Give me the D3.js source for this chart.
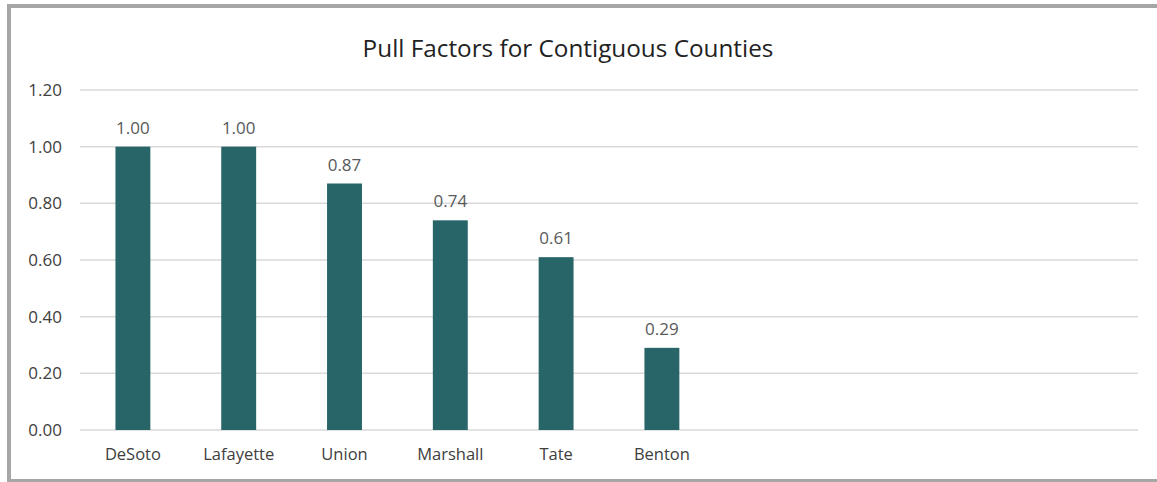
<!DOCTYPE html>
<html>
<head>
<meta charset="utf-8">
<script src="https://cdn.jsdelivr.net/npm/d3@7"></script>
<style>
  html, body { margin: 0; padding: 0; background: #fff; }
  svg { display: block; font-family: "Open Sans", sans-serif; }
</style>
</head>
<body>
<div id="chart"></div>
<script>
// chart data
var categories = ['DeSoto', 'Lafayette', 'Union', 'Marshall', 'Tate', 'Benton'];
var pullFactors = [1.00, 1.00, 0.87, 0.74, 0.61, 0.29];
var yTicks = [0, 0.2, 0.4, 0.6, 0.8, 1.0, 1.2];
// the category axis keeps room for ten slots, only six are used
var slotCount = 10;

var width = 1157, height = 482;
var margin = { top: 90, right: 19, bottom: 52, left: 80 };
var fontFamily = '"Open Sans", sans-serif';

var svg = d3.select('#chart')
    .append('svg')
    .attr('width', width)
    .attr('height', height);

// outer frame (gray on top, left and bottom)
svg.append('rect').attr('x', 7).attr('y', 4).attr('width', width - 7).attr('height', 4).style('fill', '#a6a6a6');
svg.append('rect').attr('x', 7).attr('y', 4).attr('width', 4).attr('height', height - 4).style('fill', '#a6a6a6');
svg.append('rect').attr('x', 7).attr('y', height - 3).attr('width', width - 7).attr('height', 3).style('fill', '#a6a6a6');

var x = d3.scaleBand()
    .domain(d3.range(slotCount))
    .range([margin.left, width - margin.right])
    .paddingInner(0.67)
    .paddingOuter(0.335);

var y = d3.scaleLinear()
    .domain([0, 1.2])
    .range([height - margin.bottom, margin.top]);

// gridlines
svg.append('g')
    .selectAll('line')
    .data(yTicks)
    .enter()
    .append('line')
    .attr('x1', margin.left)
    .attr('x2', width - margin.right)
    .attr('y1', function (d) { return y(d); })
    .attr('y2', function (d) { return y(d); })
    .style('stroke', '#d9d9d9')
    .style('stroke-width', 1.5);

// y axis labels
var yAxis = d3.axisLeft(y)
    .tickValues(yTicks)
    .tickFormat(d3.format('.2f'))
    .tickSize(0)
    .tickPadding(18);

var yG = svg.append('g')
    .attr('transform', 'translate(' + margin.left + ',0)')
    .call(yAxis)
    .attr('font-family', fontFamily);
yG.select('.domain').remove();
yG.selectAll('text')
    .style('font-size', '17px')
    .style('fill', '#404040');

// category labels
var xAxis = d3.axisBottom(x)
    .tickFormat(function (i) { return categories[i] || ''; })
    .tickSize(0)
    .tickPadding(18);

var xG = svg.append('g')
    .attr('transform', 'translate(0,' + (height - margin.bottom) + ')')
    .call(xAxis)
    .attr('font-family', fontFamily);
xG.select('.domain').remove();
xG.selectAll('text')
    .style('font-size', '16.5px')
    .style('fill', '#404040');

// bars
svg.append('g')
    .selectAll('rect')
    .data(pullFactors)
    .enter()
    .append('rect')
    .attr('x', function (d, i) { return x(i); })
    .attr('width', x.bandwidth())
    .attr('y', function (d) { return y(d); })
    .attr('height', function (d) { return y(0) - y(d); })
    .style('fill', '#276568');

// value labels
svg.append('g')
    .selectAll('text')
    .data(pullFactors)
    .enter()
    .append('text')
    .attr('x', function (d, i) { return x(i) + x.bandwidth() / 2; })
    .attr('y', function (d) { return y(d) - 13; })
    .style('text-anchor', 'middle')
    .style('font-size', '17px')
    .style('fill', '#595959')
    .text(function (d) { return d3.format('.2f')(d); });

// title
svg.append('text')
    .attr('x', 568)
    .attr('y', 57)
    .style('text-anchor', 'middle')
    .style('font-size', '24.3px')
    .style('fill', '#222')
    .text('Pull Factors for Contiguous Counties');
</script>
</body>
</html>
